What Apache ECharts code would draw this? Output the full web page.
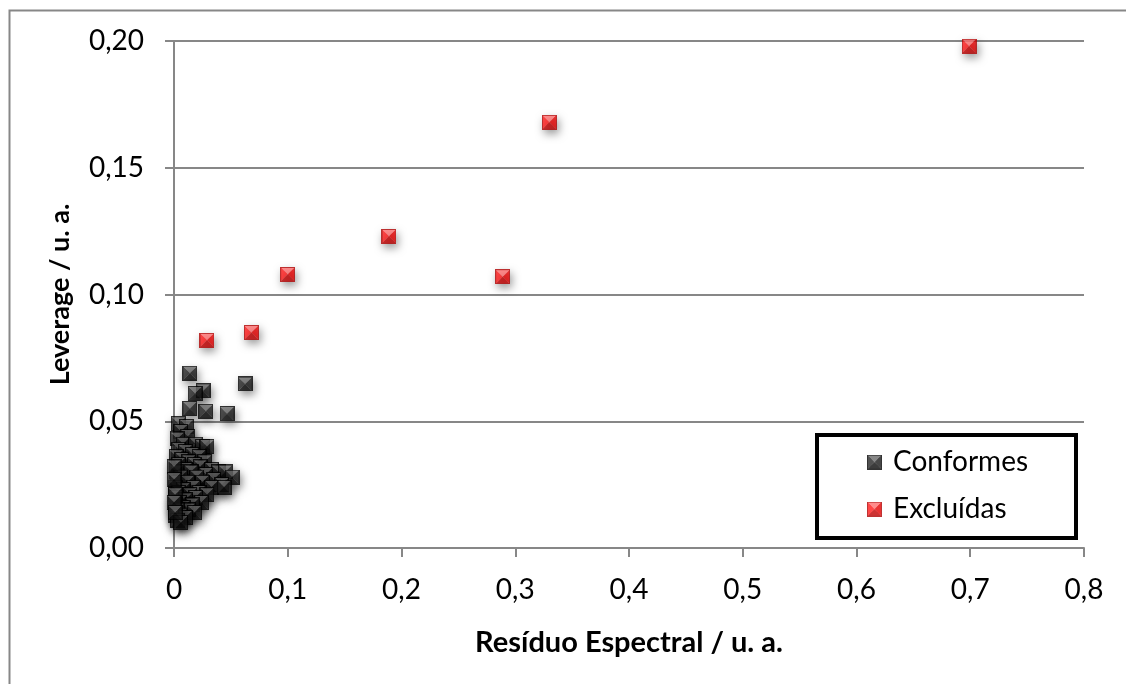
<!DOCTYPE html>
<html>
<head>
<meta charset="utf-8">
<script src="https://cdn.jsdelivr.net/npm/echarts@6/dist/echarts.min.js"></script>
<style>
  html, body { margin: 0; padding: 0; background: #fff; }
  #chart { width: 1126px; height: 684px; }
</style>
</head>
<body>
<div id="chart"></div>
<script>
// dados
var xTicks = ['0', '0,1', '0,2', '0,3', '0,4', '0,5', '0,6', '0,7', '0,8'];
var yTicks = ['0,00', '0,05', '0,10', '0,15', '0,20'];

var conformesX = [0.014, 0.0255, 0.0185, 0.0625, 0.014, 0.028, 0.0466,
  0.004, 0.011, 0.006, 0.012, 0.003, 0.008, 0.019, 0.025, 0.029, 0.004,
  0.010, 0.016, 0.022, 0.002, 0.007, 0.013, 0.027, 0.004, 0.018, 0.023,
  0.010, 0.033, 0.039, 0.045, 0.002, 0.015, 0.028, 0.051, 0.006, 0.020,
  0.035, 0.003, 0.012, 0.025, 0.042, 0.017, 0.033, 0.044, 0.001, 0.008,
  0.022, 0.004, 0.014, 0.029, 0.019, 0.002, 0.010, 0.024, 0.005, 0.016,
  0.001, 0.008, 0.013, 0.003, 0.018, 0.006, 0.001, 0.010, 0.003, 0.006,
  0.000, 0.000, 0.001, 0.000, 0.001];
var conformesY = [0.069, 0.062, 0.061, 0.0647, 0.055, 0.054, 0.053,
  0.049, 0.048, 0.046, 0.044, 0.043, 0.041, 0.041, 0.040, 0.040, 0.039,
  0.038, 0.037, 0.036, 0.036, 0.035, 0.034, 0.034, 0.033, 0.033, 0.032,
  0.031, 0.031, 0.030, 0.030, 0.030, 0.030, 0.029, 0.028, 0.028, 0.028,
  0.027, 0.026, 0.026, 0.026, 0.025, 0.024, 0.024, 0.024, 0.024, 0.023,
  0.022, 0.022, 0.021, 0.021, 0.020, 0.020, 0.019, 0.018, 0.018, 0.017,
  0.017, 0.016, 0.015, 0.015, 0.014, 0.013, 0.013, 0.012, 0.011, 0.010,
  0.032, 0.027, 0.021, 0.018, 0.014];

var excluidasX = [0.029, 0.068, 0.100, 0.189, 0.289, 0.330, 0.699];
var excluidasY = [0.082, 0.085, 0.108, 0.123, 0.107, 0.168, 0.198];

function pares(xs, ys) {
  return xs.map(function (x, i) { return [x, ys[i]]; });
}

// marcador quadrado "piramidal" no estilo do Excel
function marcador(cTop, cLeft, cRight, cBottom, cEdge) {
  var s = 28, c = document.createElement('canvas');
  c.width = s; c.height = s;
  var g = c.getContext('2d'), m = s / 2;
  function tri(a, b, col) {
    g.beginPath(); g.moveTo(a[0], a[1]); g.lineTo(b[0], b[1]); g.lineTo(m, m);
    g.closePath(); g.fillStyle = col; g.fill();
  }
  tri([0, 0], [s, 0], cTop);
  tri([0, 0], [0, s], cLeft);
  tri([s, 0], [s, s], cRight);
  tri([0, s], [s, s], cBottom);
  g.strokeStyle = cEdge; g.lineWidth = 2; g.strokeRect(1, 1, s - 2, s - 2);
  return 'image://' + c.toDataURL();
}

var simPreto = marcador('#6a6a6a', '#262626', '#1a1a1a', '#0c0c0c', '#000');
var simVermelho = marcador('#ff7070', '#ff1a1a', '#e40000', '#c20000', '#b00000');

var myChart = echarts.init(document.getElementById('chart'));

var option = {
  animation: false,
  backgroundColor: '#fff',
  textStyle: { fontFamily: 'Lato' },
  grid: { left: 174, top: 41, right: 42, bottom: 136 },
  graphic: [
    { type: 'rect', left: 7, top: 8, shape: { width: 1140, height: 700 },
      style: { fill: 'none', stroke: '#878787', lineWidth: 2 }, z: 0 },
    { type: 'rect', left: 815, top: 433, shape: { width: 259, height: 103 },
      style: { fill: '#fff', stroke: '#000', lineWidth: 4 }, z: 10 }
  ],
  legend: {
    orient: 'vertical',
    left: 862,
    top: 442,
    itemWidth: 15,
    itemHeight: 15,
    itemGap: 17,
    z: 20,
    textStyle: { fontFamily: 'Lato', fontSize: 28, color: '#000', lineHeight: 30, padding: [0, 0, 0, 6] },
    data: ['Conformes', 'Excluídas']
  },
  xAxis: {
    type: 'value',
    min: 0, max: 0.8, interval: 0.1,
    name: 'Resíduo Espectral / u. a.',
    nameLocation: 'middle',
    nameGap: 80,
    nameTextStyle: { fontFamily: 'Lato', fontWeight: 'bold', fontSize: 29, color: '#000' },
    axisLine: { lineStyle: { color: '#878787', width: 2 } },
    axisTick: { show: true, inside: false, length: 9, lineStyle: { color: '#878787', width: 2 } },
    axisLabel: {
      margin: 28, fontSize: 28, color: '#000', fontFamily: 'Lato',
      formatter: function (v) { return xTicks[Math.round(v * 10)]; }
    },
    splitLine: { show: false }
  },
  yAxis: {
    type: 'value',
    min: 0, max: 0.2, interval: 0.05,
    name: 'Leverage / u. a.',
    nameLocation: 'middle',
    nameGap: 100,
    nameTextStyle: { fontFamily: 'Lato', fontWeight: 'bold', fontSize: 27, color: '#000' },
    axisLine: { show: true, lineStyle: { color: '#878787', width: 2 } },
    axisTick: { show: true, inside: false, length: 9, lineStyle: { color: '#878787', width: 2 } },
    axisLabel: {
      margin: 30, fontSize: 28, color: '#000', fontFamily: 'Lato',
      formatter: function (v) { return yTicks[Math.round(v * 20)]; }
    },
    splitLine: { show: true, lineStyle: { color: '#878787', width: 2 } }
  },
  series: [
    {
      name: 'Conformes',
      type: 'scatter',
      symbol: simPreto,
      symbolSize: 15,
      itemStyle: { shadowBlur: 8, shadowOffsetX: 2, shadowOffsetY: 4, shadowColor: 'rgba(0,0,0,0.55)' },
      data: pares(conformesX, conformesY)
    },
    {
      name: 'Excluídas',
      type: 'scatter',
      symbol: simVermelho,
      symbolSize: 15,
      itemStyle: { shadowBlur: 8, shadowOffsetX: 2, shadowOffsetY: 4, shadowColor: 'rgba(0,0,0,0.5)' },
      data: pares(excluidasX, excluidasY)
    }
  ]
};

myChart.setOption(option);
</script>
</body>
</html>
